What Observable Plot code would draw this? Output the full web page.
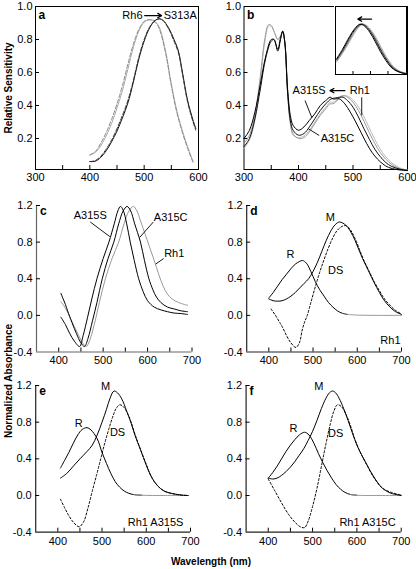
<!DOCTYPE html>
<html><head><meta charset="utf-8">
<script src="https://cdn.jsdelivr.net/npm/d3@7"></script>
<script src="https://cdn.jsdelivr.net/npm/@observablehq/plot@0.6"></script>
<style>
body{margin:0;background:#fff;}
#fig{position:relative;width:416px;height:569px;font-family:"Liberation Sans",Arial,Helvetica,sans-serif;overflow:hidden;}
.t{position:absolute;font-weight:bold;font-size:10px;white-space:nowrap;color:#000;}
</style></head><body><div id="fig"></div>
<script>
// ---------- DATA ----------
// panel a: relative sensitivity [nm, value]
const aRh6 = [[400,.10],[410,.115],[420,.155],[430,.215],[440,.29],[450,.385],[460,.49],[470,.62],[480,.75],[490,.85],[500,.905],[510,.92],[518,.915],[525,.89],[530,.855],[540,.72],[550,.53],[560,.37],[570,.25],[580,.15],[590,.06]];
const aRh6b = [[400,.10],[410,.12],[420,.17],[430,.235],[440,.315],[450,.41],[460,.52],[470,.65],[480,.77],[490,.86],[500,.91],[510,.92],[518,.91],[525,.885],[530,.845],[540,.71],[550,.52],[560,.36],[570,.24],[580,.14],[590,.055]];
const aS313A = [[400,.06],[410,.062],[420,.085],[430,.125],[440,.18],[450,.245],[460,.325],[470,.415],[480,.54],[490,.68],[500,.79],[510,.87],[520,.915],[528,.925],[535,.915],[545,.87],[555,.80],[563,.73],[570,.61],[580,.43],[590,.31],[595,.26]];
const aS313Ab = [[400,.06],[410,.066],[420,.092],[430,.135],[440,.19],[450,.26],[460,.34],[470,.43],[480,.55],[490,.69],[500,.80],[510,.875],[520,.915],[528,.925],[535,.915],[545,.865],[555,.79],[563,.72],[570,.60],[580,.42],[590,.30],[595,.25]];
const aNoteLeft = [{x:497,y:0.945,text:"Rh6"}];
const aNoteRight = [{x:536,y:0.945,text:"S313A"}];
const aArrow = [{x1:501,x2:532,y:0.945}];

// panel b: absorbance spectra
const bA315S = [[300,.20],[310,.25],[320,.36],[330,.53],[340,.70],[350,.80],[355,.80],[362,.73],[367,.80],[371,.85],[375,.78],[380,.50],[385,.34],[390,.28],[400,.25],[410,.27],[420,.31],[430,.35],[440,.40],[450,.43],[458,.45],[463,.44],[468,.44],[475,.44],[485,.41],[495,.36],[505,.30],[515,.235],[525,.17],[535,.115],[545,.075],[555,.045],[565,.025],[580,.012],[600,.005]];
const bA315C = [[300,.15],[310,.20],[320,.32],[330,.50],[340,.69],[350,.79],[355,.80],[362,.74],[367,.81],[371,.85],[375,.78],[380,.48],[385,.31],[390,.25],[400,.22],[410,.23],[420,.27],[430,.32],[440,.37],[450,.41],[460,.44],[467,.445],[475,.45],[482,.45],[490,.43],[500,.39],[510,.33],[520,.26],[530,.195],[540,.135],[550,.09],[560,.055],[570,.032],[585,.015],[600,.006]];
const bRh1 = [[300,.17],[310,.22],[320,.34],[330,.58],[338,.80],[345,.89],[350,.885],[355,.85],[362,.80],[367,.82],[371,.85],[375,.78],[380,.48],[385,.30],[390,.23],[400,.20],[410,.205],[420,.24],[430,.29],[440,.34],[450,.38],[458,.41],[463,.41],[468,.42],[475,.45],[482,.46],[490,.45],[500,.42],[510,.37],[520,.305],[530,.235],[540,.17],[550,.115],[560,.075],[570,.045],[580,.025],[590,.013],[600,.007]];
const bRh1b = [[300,.14],[310,.19],[320,.31],[330,.55],[338,.78],[345,.88],[350,.88],[355,.85],[362,.80],[367,.82],[371,.84],[375,.77],[380,.47],[385,.29],[390,.22],[400,.205],[410,.215],[420,.25],[430,.30],[440,.35],[450,.39],[458,.42],[463,.42],[470,.43],[478,.45],[486,.46],[494,.45],[504,.42],[514,.37],[524,.305],[534,.235],[544,.17],[554,.115],[564,.075],[574,.045],[584,.025],[594,.013],[600,.009]];
const bNotes = [{x:419.5,y:0.49,text:"A315S"},{x:512.6,y:0.49,text:"Rh1"},{x:471.5,y:0.198,text:"A315C"}];
const bLinks = [{x1:412,y1:0.43,x2:424.6,y2:0.325},{x1:516,y1:0.45,x2:516,y2:0.34},{x1:438,y1:0.218,x2:418,y2:0.259}];
const bArrow = [{x1:485,x2:458,y:0.49}];

// panel b inset: normalized long-wavelength band
const insA315S = [[403,.31],[420,.50],[440,.75],[455,.91],[470,1.0],[483,.96],[498,.84],[513,.66],[528,.46],[543,.29],[558,.15],[573,.075],[588,.035],[603,.015]];
const insA315C = [[403,.29],[420,.47],[440,.72],[455,.89],[474,1.0],[487,.955],[502,.83],[517,.65],[532,.45],[547,.28],[562,.145],[577,.07],[592,.03],[603,.018]];
const insRh1 = [[403,.27],[420,.44],[440,.68],[455,.86],[467,.96],[477,1.0],[490,.95],[505,.82],[520,.64],[535,.44],[550,.27],[565,.14],[580,.07],[595,.03],[603,.02]];
const insRh1b = [[403,.25],[420,.42],[440,.65],[455,.83],[470,.96],[480,1.0],[493,.95],[508,.82],[523,.64],[538,.44],[553,.27],[568,.14],[583,.07],[598,.03],[603,.025]];
const insArrow = [{x1:503,x2:464,y:1.10}];

// panel c: difference spectra
const cA315S = [[405,-.02],[415,-.10],[425,-.20],[435,-.28],[447,-.34],[455,-.22],[465,-.02],[475,.19],[486,.40],[500,.62],[513,.80],[525,1.00],[533,1.14],[539,1.19],[545,1.15],[553,1.00],[561,.80],[570,.60],[580,.40],[590,.26],[600,.16],[615,.09],[630,.06],[645,.04],[660,.025],[675,.02],[690,.01]];
const cA315C = [[405,.24],[410,.18],[415,.12],[420,.05],[430,-.08],[440,-.20],[450,-.30],[458,-.34],[466,-.25],[476,-.06],[486,.14],[498,.40],[511,.62],[524,.80],[535,1.00],[545,1.14],[554,1.19],[562,1.14],[571,1.00],[584,.80],[593,.60],[603,.40],[612,.28],[620,.20],[630,.14],[645,.09],[660,.07],[675,.05],[690,.04]];
const cRh1 = [[405,.15],[415,.08],[425,-.02],[435,-.12],[445,-.22],[455,-.31],[462,-.34],[470,-.27],[480,-.10],[492,.15],[505,.40],[520,.62],[535,.80],[547,1.00],[558,1.14],[568,1.19],[576,1.14],[585,1.02],[595,.88],[605,.74],[615,.60],[625,.45],[635,.32],[645,.23],[655,.18],[670,.14],[690,.11]];
const cNotes = [{x:471,y:1.09,text:"A315S"},{x:652,y:1.07,text:"A315C"},{x:660,y:0.68,text:"Rh1"}];
const cLinks = [{x1:471,y1:1.02,x2:515,y2:0.86},{x1:613,y1:1.02,x2:582,y2:0.85},{x1:636,y1:0.62,x2:618,y2:0.56}];

// panel d: Rh1 (R, M, DS)
const dR = [[400,.19],[410,.25],[420,.32],[430,.39],[440,.45],[450,.51],[460,.56],[470,.59],[476,.60],[485,.57],[495,.48],[505,.37],[515,.28],[525,.21],[535,.14],[545,.09],[555,.05],[565,.025],[578,.01],[600,.003],[650,0],[700,0]];
const dM = [[400,.18],[410,.16],[420,.155],[430,.16],[440,.18],[450,.21],[460,.25],[470,.30],[480,.35],[490,.40],[500,.48],[510,.58],[520,.70],[530,.82],[540,.92],[550,.99],[560,1.02],[575,.98],[590,.87],[600,.76],[612,.62],[625,.49],[638,.36],[650,.25],[660,.17],[672,.10],[685,.045],[700,.01]];
const dDS = [[405,.07],[415,0],[425,-.08],[431,-.13],[440,-.22],[450,-.30],[461,-.35],[469,-.30],[476,-.15],[482,-.06],[487,0],[495,.14],[505,.31],[515,.47],[525,.61],[535,.74],[545,.85],[555,.93],[565,.97],[575,.98],[585,.93],[595,.84],[605,.72],[615,.60],[627,.48],[638,.37],[650,.27],[660,.19],[672,.12],[685,.06],[700,.015]];
const dNotes = [{x:539,y:1.07,text:"M"},{x:449,y:0.66,text:"R"},{x:551,y:0.49,text:"DS"},{x:675,y:-0.27,text:"Rh1"}];

// panel e: Rh1 A315S
const eR = [[406,.30],[415,.38],[425,.47],[435,.57],[445,.66],[455,.72],[466,.74],[475,.715],[489,.62],[500,.47],[510,.35],[520,.24],[530,.15],[540,.09],[550,.05],[560,.025],[572,.01],[590,.003],[640,0],[695,0]];
const eM = [[406,.19],[420,.24],[435,.32],[450,.40],[466,.48],[478,.55],[489,.66],[500,.80],[510,.94],[518,1.06],[527,1.14],[535,1.12],[545,1.05],[555,.93],[565,.80],[575,.65],[587,.50],[600,.33],[612,.20],[625,.11],[640,.05],[660,.02],[680,.005],[695,0]];
const eDS = [[406,-.04],[415,-.13],[425,-.22],[435,-.29],[448,-.34],[458,-.29],[468,-.14],[478,.05],[488,.23],[497,.40],[505,.55],[515,.72],[525,.87],[532,.95],[540,.99],[548,.97],[555,.92],[565,.81],[575,.66],[587,.50],[600,.34],[612,.20],[625,.11],[640,.05],[660,.02],[680,.005],[695,0]];
const eNotes = [{x:508,y:1.19,text:"M"},{x:447,y:0.79,text:"R"},{x:535,y:0.69,text:"DS"},{x:621,y:-0.29,text:"Rh1 A315S"}];

// panel f: Rh1 A315C
const fR = [[400,.19],[410,.25],[420,.32],[430,.40],[440,.48],[450,.55],[460,.61],[470,.66],[482,.69],[492,.66],[503,.57],[513,.46],[523,.36],[533,.27],[543,.19],[553,.12],[563,.07],[573,.035],[585,.012],[600,.003],[650,0],[700,0]];
const fM = [[400,.19],[410,.18],[420,.19],[430,.22],[440,.26],[450,.31],[460,.37],[470,.44],[480,.51],[490,.60],[500,.70],[510,.82],[520,.95],[530,1.06],[538,1.12],[545,1.14],[552,1.12],[560,1.06],[570,.95],[580,.82],[590,.68],[600,.55],[610,.45],[620,.36],[630,.27],[640,.19],[650,.12],[660,.07],[670,.04],[680,.02],[690,.01],[700,0]];
const fDS = [[400,.18],[415,.05],[430,-.08],[445,-.20],[460,-.29],[472,-.34],[482,-.35],[490,-.28],[500,-.12],[510,.08],[520,.32],[530,.56],[540,.78],[548,.92],[556,.99],[565,.97],[575,.89],[585,.77],[595,.62],[605,.50],[615,.40],[625,.31],[635,.22],[645,.15],[655,.09],[665,.06],[680,.03],[700,.005]];
const fNotes = [{x:514,y:1.19,text:"M"},{x:457,y:0.73,text:"R"},{x:552,y:0.68,text:"DS"},{x:624,y:-0.29,text:"Rh1 A315C"}];

// ticks
const abXTicks = [350,400,450,500,550];
const abYTicks = [0.2,0.4,0.6,0.8];
const abXLabels = [300,400,500,600];
const abYLabels = [0.2,0.4,0.6,0.8,1.0];
const insXTicks = [450,500,550];
const cfXTicks = [400,450,500,550,600,650,700];
const cfYTicks = [0,0.4,0.8,1.2];
const cfXLabels = [400,500,600,700];
const cfYLabels = [-0.4,0,0.4,0.8,1.2];

// ---------- DRAWING ----------
const FONT = "'Liberation Sans', Arial, Helvetica, sans-serif";
const fig = document.getElementById("fig");
function place(el, left, top) {
  const d = document.createElement("div");
  d.style.position = "absolute"; d.style.left = left + "px"; d.style.top = top + "px";
  d.appendChild(el); fig.appendChild(d);
}
function title(text, left, top, rotate) {
  const d = document.createElement("div");
  d.className = "t"; d.textContent = text;
  d.style.left = left + "px"; d.style.top = top + "px";
  d.style.transform = "translate(-50%,-50%)" + (rotate ? " rotate(-90deg)" : "");
  fig.appendChild(d);
}
const ln = (data, o = {}) => Plot.line(data, {x: d => d[0], y: d => d[1], curve: "catmull-rom", stroke: "#000", strokeWidth: 1, ...o});
const notes = (data, o = {}) => Plot.text(data, {x: "x", y: "y", text: "text", fontSize: 11, ...o});
const links = (data) => Plot.link(data, {x1: "x1", y1: "y1", x2: "x2", y2: "y2", stroke: "#000", strokeWidth: 0.9});

function panel(cfg) {
  const {w, h, ml, mr, mt, mb, xd, yd, xt, yt, xl, yl, box, axisStroke = "#222", marks, letter, ldx = 4, ldy = 4, xPad = 4, yPad = 3, tickLen = 4} = cfg;
  const pw = w - ml - mr, ph = h - mt - mb;
  const m = [];
  if (box) m.push(Plot.frame({stroke: "#000", strokeWidth: 1}));
  else m.push(
    Plot.ruleX([xd[0]], {x: d => d, stroke: axisStroke, strokeWidth: 1.2}),
    Plot.ruleY([yd[0]], {y: d => d, stroke: axisStroke, strokeWidth: 1.2})
  );
  m.push(Plot.tickX(xt, {x: d => d, insetTop: ph - tickLen, stroke: "#000"}));
  if (yt) m.push(Plot.tickY(yt, {y: d => d, insetRight: pw - tickLen, stroke: "#000"}));
  if (xl) m.push(Plot.axisX({ticks: xl, tickSize: 0, tickPadding: xPad, tickFormat: d => String(d), label: null, fontSize: 11}));
  else m.push(Plot.axisX({ticks: [], tickSize: 0, label: null}));
  if (yl) m.push(Plot.axisY({ticks: yl, tickSize: 0, tickPadding: yPad, tickFormat: d => d.toFixed(1), label: null, fontSize: 11}));
  else m.push(Plot.axisY({ticks: [], tickSize: 0, label: null}));
  if (letter) m.push(Plot.text([letter], {text: d => d, frameAnchor: "top-left", dx: ldx, dy: ldy, lineAnchor: "top", textAnchor: "start", fontWeight: "bold", fontSize: 12}));
  m.push(...marks);
  return Plot.plot({
    width: w, height: h, marginLeft: ml, marginRight: mr, marginTop: mt, marginBottom: mb,
    x: {domain: xd}, y: {domain: yd},
    style: {fontFamily: FONT, fontSize: "11px", color: "#000", background: cfg.bg || "transparent", overflow: "visible"},
    marks: m
  });
}

// panel a
place(panel({
  w: 208, h: 190, ml: 35, mr: 10, mt: 6, mb: 21, xd: [300, 600], yd: [0.012, 1.0], box: true,
  xt: abXTicks, yt: abYTicks, xl: abXLabels, yl: abYLabels, letter: "a", ldx: 3, ldy: 4,
  marks: [
    ln(aRh6, {stroke: "#aaa"}),
    ln(aRh6b, {stroke: "#888", strokeDasharray: "4,2"}),
    ln(aS313A, {stroke: "#111"}),
    ln(aS313Ab, {stroke: "#333", strokeDasharray: "4,2"}),
    notes(aNoteLeft, {textAnchor: "end"}),
    notes(aNoteRight, {textAnchor: "start"}),
    Plot.arrow(aArrow, {x1: "x1", y1: "y", x2: "x2", y2: "y", headLength: 5, strokeWidth: 1.3, stroke: "#000"})
  ]
}), 0, 0);

// panel b
place(panel({
  w: 208, h: 190, ml: 35.5, mr: 9, mt: 6, mb: 21, xd: [300, 600], yd: [0.012, 1.0], box: true,
  xt: abXTicks, yt: abYTicks, xl: abXLabels, yl: abYLabels, letter: "b", ldx: 3, ldy: 4,
  marks: [
    ln(bRh1b, {stroke: "#bbb"}),
    ln(bRh1, {stroke: "#999"}),
    ln(bA315C, {stroke: "#111"}),
    ln(bA315S, {stroke: "#000"}),
    links(bLinks),
    notes(bNotes),
    Plot.arrow(bArrow, {x1: "x1", y1: "y", x2: "x2", y2: "y", headLength: 5, strokeWidth: 1.3, stroke: "#000"})
  ]
}), 208, 0);

// inset
place(panel({
  w: 73, h: 70, ml: 1, mr: 1, mt: 1, mb: 1, xd: [400, 603], yd: [0, 1.35], box: true, bg: "white",
  xt: insXTicks, yt: null, xl: null, yl: null, tickLen: 3,
  marks: [
    ln(insRh1b, {stroke: "#aaa"}),
    ln(insRh1, {stroke: "#888"}),
    ln(insA315C, {stroke: "#222"}),
    ln(insA315S, {stroke: "#000"}),
    Plot.arrow(insArrow, {x1: "x1", y1: "y", x2: "x2", y2: "y", headLength: 5, strokeWidth: 1.3, stroke: "#000"})
  ]
}), 334, 5);

// panel c
place(panel({
  w: 208, h: 180, ml: 36, mr: 16.5, mt: 15, mb: 18.5, xd: [350, 700], yd: [-0.4, 1.2], axisStroke: "#666",
  xt: cfXTicks, yt: cfYTicks, xl: cfXLabels, yl: cfYLabels, letter: "c", ldx: 3.5, ldy: 1, yPad: 4,
  marks: [
    ln(cRh1, {stroke: "#999"}),
    ln(cA315C),
    ln(cA315S),
    links(cLinks),
    notes(cNotes)
  ]
}), 0, 190);

// panel d
place(panel({
  w: 208, h: 180, ml: 38.2, mr: 15, mt: 15, mb: 18.5, xd: [350, 700], yd: [-0.4, 1.2],
  xt: cfXTicks, yt: cfYTicks, xl: cfXLabels, yl: cfYLabels, letter: "d", ldx: 3.5, ldy: 1, yPad: 4,
  marks: [
    ln(dR, {filter: d => d[0] <= 590}),
    ln(dR, {filter: d => d[0] >= 578, stroke: "#999"}),
    ln(dM),
    ln(dDS, {strokeDasharray: "2,2"}),
    notes(dNotes)
  ]
}), 208, 190);

// panel e
place(panel({
  w: 208, h: 185, ml: 35.2, mr: 18, mt: 15, mb: 23.3, xd: [350, 700], yd: [-0.4, 1.2],
  xt: cfXTicks, yt: cfYTicks, xl: cfXLabels, yl: cfYLabels, letter: "e", ldx: 3.5, ldy: 1, yPad: 4, xPad: 5,
  marks: [
    ln(eR, {filter: d => d[0] <= 590}),
    ln(eR, {filter: d => d[0] >= 572, stroke: "#999"}),
    ln(eM),
    ln(eDS, {strokeDasharray: "2,2"}),
    notes(eNotes)
  ]
}), 0, 370);

// panel f
place(panel({
  w: 208, h: 185, ml: 37.6, mr: 15.3, mt: 15, mb: 23.3, xd: [350, 700], yd: [-0.4, 1.2],
  xt: cfXTicks, yt: cfYTicks, xl: cfXLabels, yl: cfYLabels, letter: "f", ldx: 3.5, ldy: 1, yPad: 4, xPad: 5,
  marks: [
    ln(fR, {filter: d => d[0] <= 600}),
    ln(fR, {filter: d => d[0] >= 585, stroke: "#999"}),
    ln(fM),
    ln(fDS, {strokeDasharray: "2,2"}),
    notes(fNotes)
  ]
}), 208, 370);

// axis titles
title("Relative Sensitivity", 8, 88, true);
title("Normalized Absorbance", 8, 381, true);
title("Wavelength (nm)", 211, 561, false);
</script></body></html>
